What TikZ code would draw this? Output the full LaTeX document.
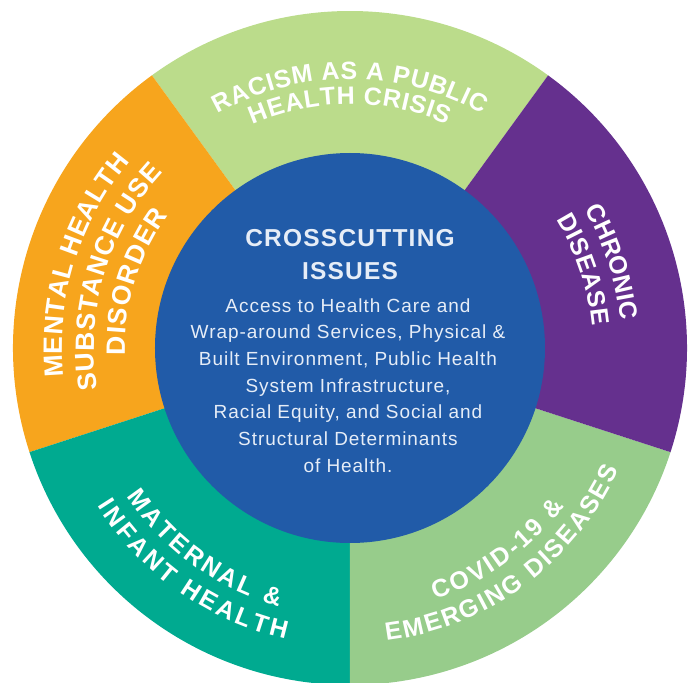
\documentclass[tikz,border=0pt]{standalone}
\usepackage{fontspec}
\setmainfont{Liberation Sans}
\usetikzlibrary{decorations.text}

\definecolor{racismgreen}{HTML}{BBDC8B}
\definecolor{chronicpurple}{HTML}{65308E}
\definecolor{covidgreen}{HTML}{97CC8B}
\definecolor{maternalteal}{HTML}{00AA90}
\definecolor{mentalorange}{HTML}{F7A51D}
\definecolor{hubblue}{HTML}{215BA8}
\definecolor{hubtext}{HTML}{E6EDF7}

\newcommand{\segfont}{\fontsize{25}{29}\selectfont\bfseries}
\newcommand{\leftsegfont}{\fontsize{26.5}{30}\selectfont\bfseries}

\tikzset{
  arctext/.style={decorate, decoration={text along path, text align={fit to path}, text color=white, text={|\segfont|#1}}},
  leftarctext/.style={decorate, decoration={text along path, text align={fit to path}, text color=white, text={|\leftsegfont|#1}}},
  titletxt/.style={text=hubtext, inner sep=0pt, anchor=base, font=\fontsize{24.5}{28}\selectfont\bfseries\addfontfeatures{LetterSpace=5}},
  bodytxt/.style={text=hubtext, inner sep=0pt, anchor=base, font=\fontsize{19}{22}\selectfont\addfontfeatures{LetterSpace=5}}
}

\begin{document}
\begin{tikzpicture}[x=1pt,y=1pt]
\useasboundingbox (-350,-335) rectangle (344,348);

% five sectors of the ring
\foreach \a/\col in {54/racismgreen,126/mentalorange,198/maternalteal,270/covidgreen,342/chronicpurple}
  \fill[\col] (0,0) -- (\a:337) arc[start angle=\a, end angle=\a+72, radius=337] -- cycle;

\fill[hubblue] (0,0) circle (195);

% labels on the ring
\path[arctext={RACISM AS A PUBLIC}] (119.5:269) arc[start angle=119.5, end angle=60.5, radius=269];
\path[arctext={HEALTH CRISIS}] (113.5:244) arc[start angle=113.5, end angle=66.5, radius=244];

\path[arctext={CHRONIC}] (30.5:272) arc[start angle=30.5, end angle=6, radius=272];
\path[arctext={DISEASE}] (32:243) arc[start angle=32, end angle=5.2, radius=243];

\path[leftarctext={MENTAL HEALTH}] (185.7:288) arc[start angle=185.7, end angle=139.8, radius=288];
\path[leftarctext={SUBSTANCE USE}] (189.4:256) arc[start angle=189.4, end angle=136.8, radius=256];
\path[leftarctext={DISORDER}] (181.9:225) arc[start angle=181.9, end angle=143.9, radius=225];

\path[arctext={MATERNAL {\&}}] (213.6:268) arc[start angle=213.6, end angle=254.6, radius=268];
\path[arctext={INFANT HEALTH}] (212:298) arc[start angle=212, end angle=257.5, radius=298];

\path[arctext={COVID-19 {\&}}] (288.8:266) arc[start angle=288.8, end angle=323.6, radius=266];
\path[arctext={EMERGING DISEASES}] (277.1:295) arc[start angle=277.1, end angle=335.6, radius=295];

% centre
\node[titletxt] (title1) at (0,101) {CROSSCUTTING};
\node[titletxt] (title2) at (0,68) {ISSUES};
\foreach \y/\t [count=\i] in {36/{Access to Health Care and},10/{Wrap-around Services, Physical \&},-17/{Built Environment, Public Health},-44/{System Infrastructure,},-70/{Racial Equity, and Social and},-97/{Structural Determinants},-124/{of Health.}}
  \node[bodytxt] (body\i) at (-2,\y) {\t};

\end{tikzpicture}
\end{document}
